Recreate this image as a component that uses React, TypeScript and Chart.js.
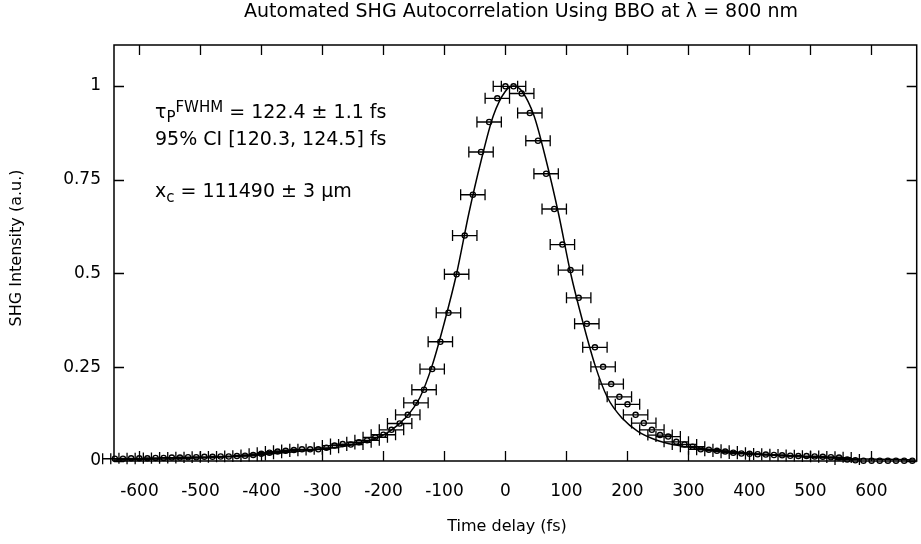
import React, { useEffect, useRef } from "react";
import { Chart, registerables } from "chart.js";

Chart.register(...registerables);

const FONT = "'DejaVu Sans', 'Verdana', sans-serif";

const TITLE = "Automated SHG Autocorrelation Using BBO at λ = 800 nm";
const X_LABEL = "Time delay (fs)";
const Y_LABEL = "SHG Intensity (a.u.)";

const X_TICKS = [-600, -500, -400, -300, -200, -100, 0, 100, 200, 300, 400, 500, 600];
const X_TICK_LABELS = ["-600", "-500", "-400", "-300", "-200", "-100", "0", "100", "200", "300", "400", "500", "600"];
const Y_TICKS = [0, 0.25, 0.5, 0.75, 1];
const Y_TICK_LABELS = ["0", "0.25", "0.5", "0.75", "1"];

// measured delays (fs)
const DELAYS = [
  -640.3, -627.0, -613.6, -600.3, -587.0, -573.6, -560.3, -546.9, -533.6, -520.3,
  -506.9, -493.6, -480.2, -466.9, -453.6, -440.2, -426.9, -413.5, -400.2, -386.9,
  -373.5, -360.2, -346.8, -333.5, -320.2, -306.8, -293.5, -280.1, -266.8, -253.5,
  -240.1, -226.8, -213.4, -200.1, -186.8, -173.4, -160.1, -146.7, -133.4, -120.1,
  -106.7, -93.4, -80.0, -66.7, -53.4, -40.0, -26.7, -13.3, 0.0,
  13.3, 26.7, 40.0, 53.4, 66.7, 80.0, 93.4, 106.7, 120.1, 133.4,
  146.7, 160.1, 173.4, 186.8, 200.1, 213.4, 226.8, 240.1, 253.5, 266.8,
  280.1, 293.5, 306.8, 320.2, 333.5, 346.8, 360.2, 373.5, 386.9, 400.2,
  413.5, 426.9, 440.2, 453.6, 466.9, 480.2, 493.6, 506.9, 520.3, 533.6,
  546.9, 560.3, 573.6, 587.0, 600.3, 613.6, 627.0, 640.3, 653.7, 667.0,
];

// measured normalized SHG intensity
const SIGNAL = [
  0.006, 0.006, 0.007, 0.007, 0.007, 0.008, 0.008, 0.009, 0.009, 0.010,
  0.010, 0.011, 0.011, 0.012, 0.012, 0.013, 0.014, 0.016, 0.019, 0.022,
  0.025, 0.027, 0.029, 0.031, 0.031, 0.031, 0.035, 0.041, 0.045, 0.044,
  0.050, 0.055, 0.063, 0.070, 0.083, 0.100, 0.123, 0.155, 0.190, 0.245,
  0.318, 0.395, 0.498, 0.601, 0.710, 0.824, 0.904, 0.967, 0.999,
  0.999, 0.980, 0.928, 0.854, 0.766, 0.672, 0.577, 0.509, 0.435, 0.366,
  0.303, 0.251, 0.205, 0.171, 0.151, 0.123, 0.101, 0.083, 0.069, 0.065,
  0.051, 0.044, 0.038, 0.031, 0.030, 0.027, 0.025, 0.022, 0.020, 0.019,
  0.018, 0.017, 0.016, 0.015, 0.014, 0.013, 0.013, 0.012, 0.011, 0.010,
  0.009, 0.004, 0.002, 0.001, 0.001, 0.001, 0.001, 0.001, 0.001, 0.001,
];

// horizontal (delay) uncertainty, fs
const DELAY_ERR = [
  20, 20, 20, 20, 20, 20, 20, 20, 20, 20,
  20, 20, 20, 20, 20, 20, 20, 20, 20, 20,
  20, 20, 20, 20, 20, 20, 20, 20, 20, 20,
  20, 20, 20, 20, 20, 20, 20, 20, 20, 20,
  20, 20, 20, 20, 20, 20, 20, 20, 20,
  20, 20, 20, 20, 20, 20, 20, 20, 20, 20,
  20, 20, 20, 20, 20, 20, 20, 20, 20, 20,
  20, 20, 20, 20, 20, 20, 20, 20, 20, 20,
  20, 20, 20, 20, 20, 20, 20, 20, 20, 20,
  20, 20, 0, 0, 0, 0, 0, 0, 0, 0,
];

// fitted autocorrelation curve
const FIT_X = [
  -641, -560, -480, -400, -350, -300, -250, -220, -190, -165, -140, -120, -100, -80, -60, -40, -20, 0,
  13.5,
  27, 47, 67, 87, 107, 127, 147, 167, 192, 217, 247, 277, 327, 377, 427, 507, 587, 672,
];
const FIT_Y = [
  0.003, 0.0055, 0.009, 0.017, 0.024, 0.032, 0.043, 0.056, 0.079, 0.113, 0.17, 0.255, 0.37, 0.5, 0.66, 0.8, 0.92, 0.986,
  1.0,
  0.986, 0.92, 0.8, 0.66, 0.5, 0.37, 0.255, 0.17, 0.113, 0.079, 0.056, 0.043, 0.032, 0.024, 0.017, 0.009, 0.0055, 0.003,
];

const TICK_LEN = 10;
const TICK_FONT = 17;
const AXIS_FONT = 16;
const TEXT_FONT = 19;

const framePlugin = {
  id: "frameAndErrors",
  beforeDatasetsDraw(chart: any) {
    const { ctx, chartArea: a, scales } = chart;
    const xs = scales.x;
    const ys = scales.y;
    const L = a.left;
    const R = a.right + 1;
    const T = a.top;
    const B = a.bottom;
    ctx.save();
    ctx.strokeStyle = "#000";
    ctx.lineWidth = 1.5;
    ctx.beginPath();
    ctx.moveTo(L, T);
    ctx.lineTo(R, T);
    ctx.lineTo(R, B);
    ctx.lineTo(L, B);
    ctx.closePath();
    ctx.stroke();
    ctx.lineWidth = 1.3;
    ctx.beginPath();
    for (const v of X_TICKS) {
      const px = Math.round(xs.getPixelForValue(v)) + 0.5;
      ctx.moveTo(px, B);
      ctx.lineTo(px, B - TICK_LEN);
      ctx.moveTo(px, T);
      ctx.lineTo(px, T + TICK_LEN);
    }
    for (const v of Y_TICKS) {
      const py = Math.round(ys.getPixelForValue(v)) + 0.5;
      ctx.moveTo(L, py);
      ctx.lineTo(L + TICK_LEN, py);
      ctx.moveTo(R, py);
      ctx.lineTo(R - TICK_LEN, py);
    }
    ctx.stroke();

    // tick labels, positioned through the scales
    ctx.fillStyle = "#000";
    ctx.font = `${TICK_FONT}px ${FONT}`;
    ctx.textAlign = "center";
    ctx.textBaseline = "middle";
    X_TICKS.forEach((v, i) => {
      ctx.fillText(X_TICK_LABELS[i], xs.getPixelForValue(v), B + 31);
    });
    ctx.textAlign = "right";
    Y_TICKS.forEach((v, i) => {
      ctx.fillText(Y_TICK_LABELS[i], L - 13, ys.getPixelForValue(v));
    });
    // axis titles
    ctx.font = `${AXIS_FONT}px ${FONT}`;
    ctx.textAlign = "center";
    ctx.fillText(X_LABEL, 507, B + 66);
    ctx.save();
    ctx.translate(17, 248);
    ctx.rotate(-Math.PI / 2);
    ctx.fillText(Y_LABEL, 0, 0);
    ctx.restore();

    // horizontal error bars
    ctx.lineWidth = 1.3;
    ctx.beginPath();
    for (let i = 0; i < DELAYS.length; i++) {
      const e = DELAY_ERR[i];
      if (!e) continue;
      const y = ys.getPixelForValue(SIGNAL[i]);
      const x0 = xs.getPixelForValue(DELAYS[i] - e);
      const x1 = xs.getPixelForValue(DELAYS[i] + e);
      ctx.moveTo(x0, y);
      ctx.lineTo(x1, y);
      ctx.moveTo(x0, y - 5.5);
      ctx.lineTo(x0, y + 5.5);
      ctx.moveTo(x1, y - 5.5);
      ctx.lineTo(x1, y + 5.5);
    }
    ctx.stroke();
    ctx.restore();
  },
  afterDraw(chart: any) {
    const { ctx } = chart;
    ctx.save();
    ctx.fillStyle = "#000";

    // title
    ctx.font = `${TEXT_FONT}px ${FONT}`;
    ctx.textAlign = "center";
    ctx.textBaseline = "middle";
    ctx.fillText(TITLE, 521, 12);

    ctx.textBaseline = "alphabetic";
    ctx.textAlign = "left";
    const draw = (x: number, y: number, parts: { t: string; s: number; dy: number }[]) => {
      let cx = x;
      for (const p of parts) {
        ctx.font = `${p.s}px ${FONT}`;
        ctx.fillText(p.t, cx, y + p.dy);
        cx += ctx.measureText(p.t).width;
      }
    };
    draw(155, 118, [
      { t: "τ", s: TEXT_FONT, dy: 0 },
      { t: "P", s: 15, dy: 4 },
      { t: "FWHM", s: 15, dy: -6 },
      { t: " = 122.4 ± 1.1 fs", s: TEXT_FONT, dy: 0 },
    ]);
    draw(155, 145, [{ t: "95% CI [120.3, 124.5] fs", s: TEXT_FONT, dy: 0 }]);
    draw(155, 197, [
      { t: "x", s: TEXT_FONT, dy: 0 },
      { t: "c", s: 15, dy: 5 },
      { t: " = 111490 ± 3 µm", s: TEXT_FONT, dy: 0 },
    ]);
    ctx.restore();
  },
};

export default function App() {
  const ref = useRef<HTMLCanvasElement | null>(null);
  useEffect(() => {
    document.body.style.margin = "0";
    const canvas = ref.current;
    if (!canvas) return;
    const chart = new Chart(canvas, {
      type: "scatter",
      data: {
        datasets: [
          {
            type: "line",
            label: "fit",
            data: FIT_X.map((x, i) => ({ x, y: FIT_Y[i] })),
            borderColor: "#000",
            borderWidth: 1.5,
            pointRadius: 0,
            cubicInterpolationMode: "monotone",
            fill: false,
          } as any,
          {
            type: "scatter",
            label: "data",
            data: DELAYS.map((x, i) => ({ x, y: SIGNAL[i] })),
            pointRadius: 2.6,
            pointBorderWidth: 1.3,
            borderColor: "#000",
            backgroundColor: "rgba(0,0,0,0)",
            pointStyle: "circle",
            clip: false,
          } as any,
        ],
      },
      options: {
        responsive: false,
        animation: false,
        devicePixelRatio: 1,
        layout: { padding: { top: 45, left: 0, right: 0, bottom: 0 } },
        plugins: {
          legend: { display: false },
          tooltip: { enabled: false },
          title: { display: false },
        },
        scales: {
          x: {
            type: "linear",
            min: -641.7,
            max: 672.6,
            grid: { display: false, drawTicks: false },
            border: { display: false },
            afterBuildTicks: (s: any) => {
              s.ticks = X_TICKS.map((v) => ({ value: v }));
            },
            afterFit: (s: any) => {
              s.height = 83;
              s.paddingLeft = 0;
              s.paddingRight = 0;
            },
            ticks: { display: false },
            title: { display: false },
          },
          y: {
            type: "linear",
            min: 0,
            max: 1.1093,
            grid: { display: false, drawTicks: false },
            border: { display: false },
            afterBuildTicks: (s: any) => {
              s.ticks = Y_TICKS.map((v) => ({ value: v }));
            },
            afterFit: (s: any) => {
              s.width = 114;
              s.paddingTop = 0;
              s.paddingBottom = 0;
            },
            ticks: { display: false },
            title: { display: false },
          },
        },
      } as any,
      plugins: [framePlugin],
    });
    return () => chart.destroy();
  }, []);
  return (
    <div style={{ width: 921, height: 544 }}>
      <canvas ref={ref} width={921} height={544} style={{ display: "block" }} />
    </div>
  );
}
